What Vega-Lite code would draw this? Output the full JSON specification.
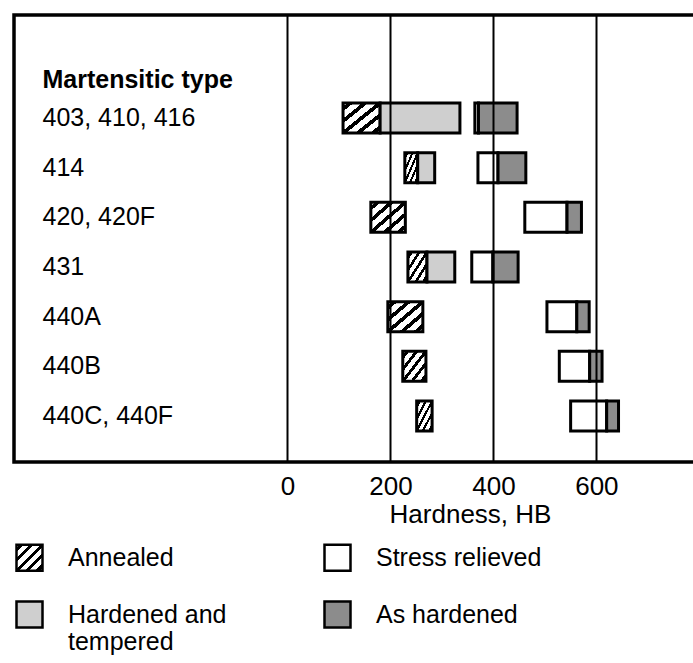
{
  "$schema": "https://vega.github.io/schema/vega-lite/v6.json",
  "width": 690,
  "height": 447,
  "padding": {"left": 14, "top": 15, "right": 0, "bottom": 0},
  "background": "white",
  "config": {
    "view": {"stroke": "black", "strokeWidth": 3.5},
    "font": "Liberation Sans"
  },
  "data": {
    "values": [
      {"type": "403, 410, 416", "condition": "Annealed", "lo": 108, "hi": 180},
      {"type": "403, 410, 416", "condition": "Hardened and tempered", "lo": 180, "hi": 335},
      {"type": "403, 410, 416", "condition": "Stress relieved", "lo": 364, "hi": 371},
      {"type": "403, 410, 416", "condition": "As hardened", "lo": 371, "hi": 446},
      {"type": "414", "condition": "Annealed", "lo": 228, "hi": 253},
      {"type": "414", "condition": "Hardened and tempered", "lo": 253, "hi": 286},
      {"type": "414", "condition": "Stress relieved", "lo": 370, "hi": 409},
      {"type": "414", "condition": "As hardened", "lo": 409, "hi": 463},
      {"type": "420, 420F", "condition": "Annealed", "lo": 162, "hi": 229},
      {"type": "420, 420F", "condition": "Stress relieved", "lo": 461, "hi": 543},
      {"type": "420, 420F", "condition": "As hardened", "lo": 543, "hi": 571},
      {"type": "431", "condition": "Annealed", "lo": 234, "hi": 271},
      {"type": "431", "condition": "Hardened and tempered", "lo": 271, "hi": 325},
      {"type": "431", "condition": "Stress relieved", "lo": 358, "hi": 399},
      {"type": "431", "condition": "As hardened", "lo": 399, "hi": 448},
      {"type": "440A", "condition": "Annealed", "lo": 195, "hi": 263},
      {"type": "440A", "condition": "Stress relieved", "lo": 504, "hi": 562},
      {"type": "440A", "condition": "As hardened", "lo": 562, "hi": 586},
      {"type": "440B", "condition": "Annealed", "lo": 224, "hi": 269},
      {"type": "440B", "condition": "Stress relieved", "lo": 528, "hi": 587},
      {"type": "440B", "condition": "As hardened", "lo": 587, "hi": 611},
      {"type": "440C, 440F", "condition": "Annealed", "lo": 251, "hi": 281},
      {"type": "440C, 440F", "condition": "Stress relieved", "lo": 550, "hi": 620},
      {"type": "440C, 440F", "condition": "As hardened", "lo": 620, "hi": 643}
    ]
  },
  "mark": {"type": "bar", "stroke": "black", "strokeWidth": 3, "size": 30, "opacity": 1, "fillOpacity": 1},
  "encoding": {
    "y": {
      "field": "type",
      "type": "nominal",
      "sort": ["403, 410, 416", "414", "420, 420F", "431", "440A", "440B", "440C, 440F"],
      "scale": {"paddingInner": 0, "paddingOuter": 1.289, "align": 0.787},
      "axis": {
        "title": "Martensitic type",
        "titleFont": "Liberation Sans",
        "titleFontSize": 25,
        "titleFontWeight": "bold",
        "titleColor": "black",
        "titleAngle": 0,
        "titleAlign": "left",
        "titleBaseline": "middle",
        "titleX": 28,
        "titleY": 64,
        "domain": false,
        "ticks": false,
        "grid": false,
        "labelAlign": "left",
        "labelPadding": -28,
        "labelFont": "Liberation Sans",
        "labelFontSize": 25,
        "labelColor": "black",
        "labelLimit": 0
      }
    },
    "x": {
      "field": "lo",
      "type": "quantitative",
      "scale": {"domain": [-531, 809], "nice": false, "zero": false},
      "axis": {
        "title": "Hardness, HB",
        "values": [0, 200, 400, 600],
        "domain": false,
        "ticks": false,
        "grid": true,
        "gridColor": "black",
        "gridWidth": 2,
        "gridOpacity": 1,
        "zindex": 1,
        "labelFont": "Liberation Sans",
        "labelFontSize": 26,
        "labelColor": "black",
        "labelPadding": 11,
        "titleFont": "Liberation Sans",
        "titleFontSize": 26,
        "titleFontWeight": "normal",
        "titleColor": "black",
        "titleX": 456,
        "titleY": 60,
        "titleBaseline": "alphabetic",
        "titleAlign": "center"
      }
    },
    "x2": {"field": "hi"},
    "fill": {
      "field": "condition",
      "type": "nominal",
      "scale": {
        "domain": ["Annealed", "Hardened and tempered", "Stress relieved", "As hardened"],
        "range": [
          {"expr": "{gradient:'linear',x1:0,y1:0,x2:1,y2:1,stops:[{offset:0,color:'#fff'},{offset:0.06,color:'#fff'},{offset:0.06,color:'#000'},{offset:0.14,color:'#000'},{offset:0.14,color:'#fff'},{offset:0.26,color:'#fff'},{offset:0.26,color:'#000'},{offset:0.34,color:'#000'},{offset:0.34,color:'#fff'},{offset:0.46,color:'#fff'},{offset:0.46,color:'#000'},{offset:0.54,color:'#000'},{offset:0.54,color:'#fff'},{offset:0.66,color:'#fff'},{offset:0.66,color:'#000'},{offset:0.74,color:'#000'},{offset:0.74,color:'#fff'},{offset:0.86,color:'#fff'},{offset:0.86,color:'#000'},{offset:0.94,color:'#000'},{offset:0.94,color:'#fff'},{offset:1,color:'#fff'}]}"},
          "#cfcfcf",
          "#ffffff",
          "#8c8c8c"
        ]
      },
      "legend": {
        "title": null,
        "orient": "none",
        "legendX": 1,
        "legendY": 528,
        "columns": 2,
        "columnPadding": 92,
        "rowPadding": 20,
        "symbolType": "square",
        "symbolSize": 676,
        "symbolStrokeColor": "black",
        "symbolStrokeWidth": 2.5,
        "symbolOpacity": 1,
        "labelFont": "Liberation Sans",
        "labelFontSize": 25,
        "labelColor": "black",
        "labelOffset": 24,
        "labelLimit": 0,
        "labelExpr": "datum.label == 'Hardened and tempered' ? ['Hardened and', 'tempered'] : datum.label"
      }
    }
  }
}
